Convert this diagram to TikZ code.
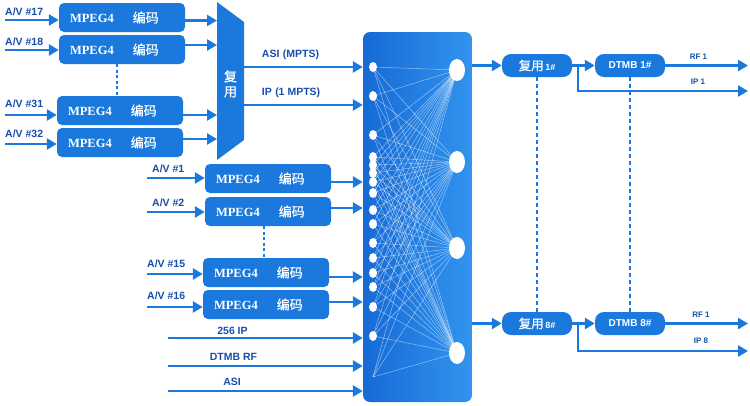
\documentclass[tikz,border=0pt]{standalone}
\usepackage{fontspec}
\usepackage{xcolor}
\usepackage{tikz}
\usetikzlibrary{arrows.meta,shapes.geometric}
\newfontfamily\cjk{Noto Sans CJK SC}[FakeBold=0.6]
\newfontfamily\lsans{Liberation Sans}
\newfontfamily\lserif{Liberation Serif}
\definecolor{boxblue}{RGB}{27,121,222}
\definecolor{labblue}{RGB}{22,78,170}
\definecolor{mtxleft}{RGB}{22,106,214}
\definecolor{mtxright}{RGB}{50,148,238}
\newcommand{\mpegenc}{{\lserif\bfseries\fontsize{12.5}{14}\selectfont MPEG4}\hspace{19pt}{\cjk\fontsize{13}{14}\selectfont 编码}}

\begin{document}
\begin{tikzpicture}[x=1pt, y=-1pt,
  enc/.style={rectangle, rounded corners=5pt, minimum width=126pt, minimum height=29pt, inner xsep=11pt, text width=104pt, align=left, fill=boxblue, text=white},
  muxbox/.style={rectangle, rounded corners=9pt, minimum width=70pt, minimum height=23pt, inner sep=0pt, fill=boxblue, text=white},
  arr/.style={draw=boxblue, line width=2.8pt, -{Triangle[length=10pt,width=11pt]}},
  dotline/.style={draw=boxblue, line width=2pt, dash pattern=on 3pt off 2.5pt},
  avlab/.style={font=\lsans\bfseries\fontsize{10.5}{12}\selectfont, text=labblue, inner sep=0pt},
  smalllab/.style={font=\lsans\bfseries\fontsize{8}{9}\selectfont, text=labblue, inner sep=0pt},
  mesh/.style={draw=white, draw opacity=0.55, line width=0.45pt},
  dot/.style={ellipse, fill=white, minimum width=8pt, minimum height=10pt, inner sep=0pt},
  bigdot/.style={ellipse, fill=white, minimum width=16pt, minimum height=22pt, inner sep=0pt}]

\useasboundingbox (0,0) rectangle (750,405);

\node (e17) [enc] at (122,17.5) {\mpegenc};
\node (e18) [enc] at (122,49.5) {\mpegenc};
\node (e31) [enc] at (120,110.5) {\mpegenc};
\node (e32) [enc] at (120,142.5) {\mpegenc};
\node (e1) [enc] at (268,178.5) {\mpegenc};
\node (e2) [enc] at (268,211.5) {\mpegenc};
\node (e15) [enc] at (266,272.5) {\mpegenc};
\node (e16) [enc] at (266,304.5) {\mpegenc};

\draw[dotline] ([xshift=-5pt]e18.south) -- ([xshift=-5pt]e18.south |- e31.north);
\draw[dotline] ([xshift=-4pt]e2.south) -- ([xshift=-4pt]e2.south |- e15.north);

\node (l17) [avlab, anchor=south west] at (5,16) {A/V \#17};
\node (l18) [avlab, anchor=south west] at (5,46) {A/V \#18};
\node (l31) [avlab, anchor=south west] at (5,108) {A/V \#31};
\node (l32) [avlab, anchor=south west] at (5,138) {A/V \#32};
\node (l1) [avlab, anchor=south west] at (152,173) {A/V \#1};
\node (l2) [avlab, anchor=south west] at (152,207) {A/V \#2};
\node (l15) [avlab, anchor=south west] at (147,268) {A/V \#15};
\node (l16) [avlab, anchor=south west] at (147,300) {A/V \#16};

\coordinate (s17) at (5,20);
\coordinate (s18) at (5,50);
\coordinate (s31) at (5,115);
\coordinate (s32) at (5,144);
\coordinate (s1) at (147,178);
\coordinate (s2) at (147,212);
\coordinate (s15) at (147,274);
\coordinate (s16) at (147,307);

\draw[arr] (s17) -- (s17 -| e17.west);
\draw[arr] (s18) -- (s18 -| e18.west);
\draw[arr] (s31) -- (s31 -| e31.west);
\draw[arr] (s32) -- (s32 -| e32.west);
\draw[arr] (s1) -- (s1 -| e1.west);
\draw[arr] (s2) -- (s2 -| e2.west);
\draw[arr] (s15) -- (s15 -| e15.west);
\draw[arr] (s16) -- (s16 -| e16.west);

\fill[boxblue] (217,2) -- (244,22) -- (244,140) -- (217,160) -- cycle;
\coordinate (muxw) at (217,80);
\coordinate (muxe) at (244,80);
\node (muxtxt) [text=white, font=\cjk\fontsize{13}{15}\selectfont, align=center, inner sep=0pt] at (230.5,84) {复\\用};

\draw[arr] ([yshift=-3pt]e17.east) -- ([yshift=-3pt]e17.east -| muxw);
\draw[arr] ([yshift=4.5pt]e18.east) -- ([yshift=4.5pt]e18.east -| muxw);
\draw[arr] ([yshift=-4.5pt]e31.east) -- ([yshift=-4.5pt]e31.east -| muxw);
\draw[arr] ([yshift=3.5pt]e32.east) -- ([yshift=3.5pt]e32.east -| muxw);

\node (mtx) [rectangle, rounded corners=7pt, minimum width=109pt, minimum height=370pt, left color=mtxleft, right color=mtxright] at (417.5,217) {};

\foreach \y [count=\i] in {67,96,135,157,165,173,182,193,210,224,243,258,273,287,307,336,377}
  \coordinate (p\i) at (373,\y);
\foreach \y [count=\j] in {70,162,248,353}
  \coordinate (q\j) at (457,\y);
\foreach \i in {1,...,17}
  \foreach \j in {1,...,4}
    \draw[mesh] (p\i) -- (q\j);
\foreach \i in {1,...,16}
  \node (d\i) [dot] at (p\i) {};
\foreach \j in {1,...,4}
  \node (o\j) [bigdot] at (q\j) {};

\coordinate (asis) at (244,67);
\coordinate (ips) at (244,105);
\node (asil) [avlab] at (290.5,54.5) {ASI\,\,(MPTS)};
\node (ipl) [avlab] at (291,93) {IP\,\,(1 MPTS)};
\draw[arr] (asis) -- (asis -| mtx.west);
\draw[arr] (ips) -- (ips -| mtx.west);

\draw[arr] ([yshift=-3.5pt]e1.east) -- ([yshift=-3.5pt]e1.east -| mtx.west);
\draw[arr] ([yshift=3.5pt]e2.east) -- ([yshift=3.5pt]e2.east -| mtx.west);
\draw[arr] ([yshift=-4.5pt]e15.east) -- ([yshift=-4.5pt]e15.east -| mtx.west);
\draw[arr] ([yshift=2.5pt]e16.east) -- ([yshift=2.5pt]e16.east -| mtx.west);

\coordinate (ip256s) at (168,338);
\coordinate (rfs) at (168,366);
\coordinate (asi2s) at (168,391);
\node (ip256l) [avlab] at (232.5,330.5) {256 IP};
\node (rfl) [avlab] at (233.5,357) {DTMB RF};
\node (asi2l) [avlab] at (232,382) {ASI};
\draw[arr] (ip256s) -- (ip256s -| mtx.west);
\draw[arr] (rfs) -- (rfs -| mtx.west);
\draw[arr] (asi2s) -- (asi2s -| mtx.west);

\node (mux1) [muxbox] at (537,65.5) {{\cjk\fontsize{12.5}{14}\selectfont 复用}\,{\lsans\bfseries\fontsize{9}{10}\selectfont 1\#}};
\node (mux8) [muxbox] at (537,323.5) {{\cjk\fontsize{12.5}{14}\selectfont 复用}\,{\lsans\bfseries\fontsize{9}{10}\selectfont 8\#}};
\node (dtmb1) [muxbox] at (630,65.5) {\lsans\bfseries\fontsize{10}{12}\selectfont DTMB 1\#};
\node (dtmb8) [muxbox] at (630,323.5) {\lsans\bfseries\fontsize{10}{12}\selectfont DTMB 8\#};

\draw[dotline, line width=2.6pt, dash pattern=on 4pt off 3pt] (mux1.south) -- (mux8.north);
\draw[dotline, line width=2.6pt, dash pattern=on 4pt off 3pt] (dtmb1.south) -- (dtmb8.north);

\draw[arr] (mtx.east |- mux1) -- (mux1.west);
\draw[arr] (mtx.east |- mux8) -- (mux8.west);
\draw[arr] (mux1) -- (dtmb1);
\draw[arr] (mux8) -- (dtmb8);

\coordinate (br1) at (578,65.5);
\coordinate (br8) at (578,323.5);
\coordinate (rf1e) at (748,65.5);
\coordinate (ip1e) at (748,91);
\coordinate (rf8e) at (748,323.5);
\coordinate (ip8e) at (748,351);

\draw[arr] (dtmb1) -- (rf1e);
\draw[arr] (dtmb8) -- (rf8e);
\draw[arr] (br1) |- (ip1e);
\draw[arr] (br8) |- (ip8e);

\node (rf1l) [smalllab] at (698.5,57) {RF 1};
\node (ip1l) [smalllab] at (698,82) {IP 1};
\node (rf8l) [smalllab] at (701,314.5) {RF 1};
\node (ip8l) [smalllab] at (701,341) {IP 8};

\end{tikzpicture}
\end{document}
